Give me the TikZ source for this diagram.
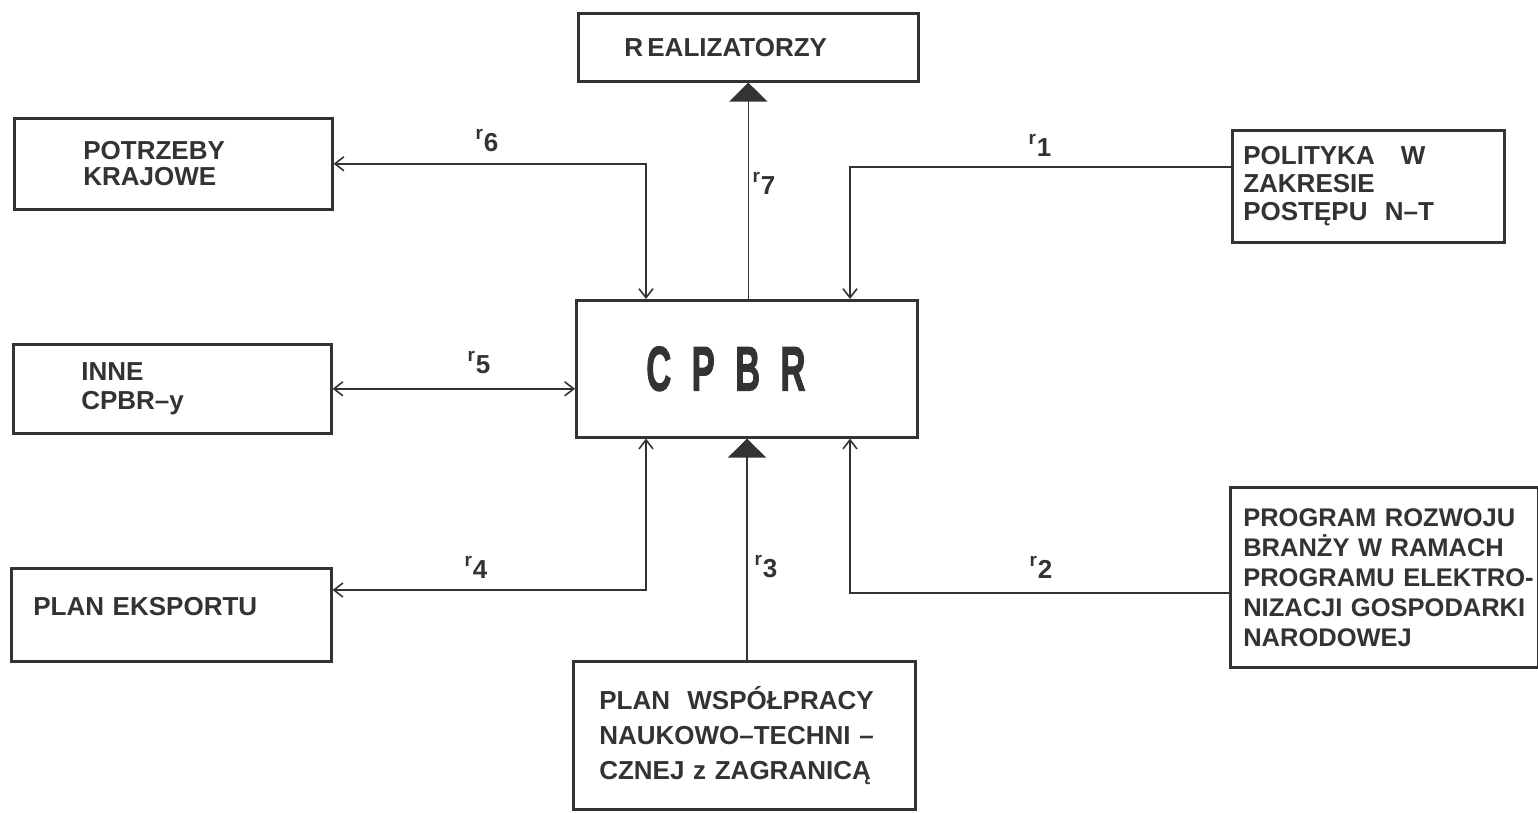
\documentclass[tikz,border=0pt]{standalone}
\usepackage{fontspec}
\setmainfont{Liberation Sans}
\usetikzlibrary{arrows.meta}
\definecolor{ink}{HTML}{333333}
\newcommand\rlab[1]{\raisebox{12pt}{\fontsize{19}{19}\selectfont r}\kern1pt#1}
\tikzset{
  box/.style={draw=ink, line width=2.6pt, rectangle, align=left, text=ink,
    font=\fontsize{26}{28}\selectfont\bfseries, anchor=north west, inner ysep=0pt},
  conn/.style={draw=ink, line width=1.6pt},
  lab/.style={text=ink, font=\fontsize{26}{26}\selectfont\bfseries, inner sep=0pt},
  barb/.style={>={Straight Barb[length=9pt,width=14pt,line width=1.6pt]}},
  bigtip/.style={-{Triangle[length=19pt,width=38pt]}}
}
\begin{document}
\begin{tikzpicture}[x=1pt,y=-1pt]
\useasboundingbox[fill=white] (0,0) rectangle (1538,813);

% boxes
\node[box, minimum width=340pt, minimum height=68pt, text width=248pt, inner xsep=46pt] (rea) at (577,12) {\mbox{R\,EALIZATORZY}};
\node[box, minimum width=318pt, minimum height=91pt, text width=180pt, inner xsep=69pt, font=\fontsize{26}{26.5}\selectfont\bfseries] (pot) at (13,117) {\mbox{POTRZEBY}\\\mbox{KRAJOWE}};
\node[box, minimum width=272pt, minimum height=112pt, text width=250pt, inner xsep=11pt] (pol) at (1231,129) {\mbox{POLITYKA\quad W}\\\mbox{ZAKRESIE}\\\mbox{POSTĘPU\ \ N--T}};
\node[box, minimum width=341pt, minimum height=137pt, text width=201pt, inner xsep=70pt] (cpbr) at (575,299) {\mbox{\scalebox{0.55}[1]{\fontsize{63}{63}\selectfont\addfontfeature{FakeBold=2}C\hspace{37pt}P\hspace{37pt}B\hspace{37pt}R}}};
\node[box, minimum width=318pt, minimum height=89pt, text width=182pt, inner xsep=68pt, font=\fontsize{26}{29}\selectfont\bfseries] (inne) at (12,343) {\mbox{INNE}\\\mbox{CPBR--y}};
\node[box, minimum width=320pt, minimum height=93pt, text width=276pt, inner xsep=22pt] (exp) at (10,567) {\raisebox{17pt}{\mbox{PLAN\ EKSPORTU}}};
\node[box, minimum width=308pt, minimum height=180pt, text width=282pt, inner xsep=13pt, font=\fontsize{25.5}{30}\selectfont\bfseries] (prog) at (1229,486) {\mbox{PROGRAM ROZWOJU}\\\mbox{BRANŻY W RAMACH}\\\mbox{PROGRAMU ELEKTRO-}\\\mbox{NIZACJI GOSPODARKI}\\\mbox{NARODOWEJ}};
\node[box, minimum width=342pt, minimum height=148pt, text width=290pt, inner xsep=26pt, font=\fontsize{26}{35}\selectfont\bfseries] (wsp) at (572,660) {\mbox{PLAN\ \ WSPÓŁPRACY}\\\mbox{NAUKOWO--TECHNI\ --}\\\mbox{CZNEJ\ z\ ZAGRANICĄ}};

% bend points
\coordinate (k6) at (646,0);
\coordinate (k1) at (850,167);
\coordinate (k4) at (646,590);
\coordinate (k3) at (747,0);
\coordinate (k2) at (850,593);

% connectors
\draw[conn, bigtip] (rea.south |- cpbr.north) -- (rea.south);
\draw[conn, barb, <->] (pot.east) -| (cpbr.north -| k6);
\draw[conn, barb, ->] (pol.west |- k1) -- (k1) -- (k1 |- cpbr.north);
\draw[conn, barb, <->] (inne.east) -- (inne.east -| cpbr.west);
\draw[conn, barb, <->] (exp.east |- k4) -- (k4) -- (k4 |- cpbr.south);
\draw[conn, bigtip] (wsp.north -| k3) -- (cpbr.south -| k3);
\draw[conn, barb, ->] (prog.west |- k2) -- (k2) -- (k2 |- cpbr.south);

% labels
\node[lab] (l6) at (487,141) {\rlab{6}};
\node[lab] (l7) at (764,183) {\rlab{7}};
\node[lab] (l1) at (1040,145) {\rlab{1}};
\node[lab] (l5) at (479,363) {\rlab{5}};
\node[lab] (l4) at (476,567) {\rlab{4}};
\node[lab] (l3) at (766,567) {\rlab{3}};
\node[lab] (l2) at (1041,567) {\rlab{2}};
\end{tikzpicture}
\end{document}
